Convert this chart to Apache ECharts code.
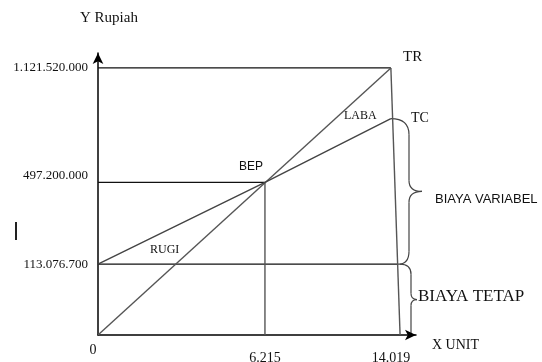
<!DOCTYPE html>
<html>
<head>
<meta charset="utf-8">
<script src="https://cdn.jsdelivr.net/npm/echarts@6/dist/echarts.min.js"></script>
<style>html,body{margin:0;padding:0;background:#fff;}#c{width:542px;height:362px;}</style>
</head>
<body>
<div id="c"></div>
<script>
// ---- data (real units) ----
const xTickValues = [0, 6215, 14019];
const xTickLabels = ['0', '6.215', '14.019'];
const yTickValues = [0, 113076700, 497200000, 1121520000];
const yTickLabels = ['', '113.076.700', '497.200.000', '1.121.520.000'];
const bepUnits = 6215;
const bepRupiah = 497200000;
const fixedCost = 113076700;
const maxUnits = 14019;
const totalRevenueMax = 1121520000;
const totalCostEnd = 845000000;   // (schematic)
const dropEndUnits = 14590;       // estimated: base of the near-vertical line
const fixedLineEndUnits = 14450;  // estimated: end of fixed-cost line

// schematic (not-to-scale) axis: tick values placed at picture positions
const xDisp = [0, 52.5, 92.1];
const yDisp = [0, 25.1, 54.1, 94.7];
function interp(v, real, disp) {
  let i = 0;
  while (i < real.length - 2 && v > real[i + 1]) i++;
  return disp[i] + (v - real[i]) * (disp[i + 1] - disp[i]) / (real[i + 1] - real[i]);
}
const sx = v => interp(v, xTickValues, xDisp);
const sy = v => interp(v, yTickValues, yDisp);
const P = (x, y) => [sx(x), sy(y)];

const serif = '"Liberation Serif", "Times New Roman", serif';
const sans = '"Liberation Sans", Arial, sans-serif';

const chart = echarts.init(document.getElementById('c'), null, {renderer: 'canvas'});

function lineSeries(data, color, width) {
  return {type: 'line', data: data, symbol: 'none', silent: true, animation: false,
    lineStyle: {color: color, width: width}, z: 3};
}

const xLabelMap = {};
xDisp.forEach((d, i) => xLabelMap[d.toFixed(2)] = i);
const yLabelMap = {};
yDisp.forEach((d, i) => yLabelMap[d.toFixed(2)] = i);

chart.setOption({
  animation: false,
  backgroundColor: '#fff',
  grid: {left: 98, right: 126, top: 53, bottom: 27, outerBoundsMode: 'none', containLabel: false},
  xAxis: {
    type: 'value', min: 0, max: 100,
    axisLine: {show: true, lineStyle: {color: '#000', width: 1.5}, symbol: ['none', 'arrow'], symbolSize: [8, 11]},
    axisTick: {show: false},
    splitLine: {show: false},
    axisLabel: {
      customValues: xDisp, margin: 8,
      formatter: v => {
        const i = xLabelMap[(+v).toFixed(2)];
        if (i === undefined) return '';
        return i === 0 ? '{z|' + xTickLabels[i] + '}' : '{t|' + xTickLabels[i] + '}';
      },
      rich: {
        z: {fontFamily: serif, fontSize: 14, color: '#111', padding: [0, 10, 0, 0]},
        t: {fontFamily: serif, fontSize: 14, color: '#111', padding: [8, 0, 0, 0]}
      }
    }
  },
  yAxis: {
    type: 'value', min: 0, max: 100,
    axisLine: {show: true, lineStyle: {color: '#000', width: 1.5}, symbol: ['none', 'arrow'], symbolSize: [8, 11]},
    axisTick: {show: false},
    splitLine: {show: false},
    axisLabel: {
      customValues: yDisp, margin: 10,
      formatter: v => {
        const i = yLabelMap[(+v).toFixed(2)];
        if (i === undefined || !yTickLabels[i]) return '';
        return i === 2 ? '{u|' + yTickLabels[i] + '}' : '{t|' + yTickLabels[i] + '}';
      },
      rich: {
        t: {fontFamily: serif, fontSize: 13, color: '#111'},
        u: {fontFamily: serif, fontSize: 13, color: '#111', padding: [0, 0, 14, 0]}
      }
    }
  },
  series: [
    lineSeries([P(0, totalRevenueMax), P(maxUnits, totalRevenueMax)], '#111', 1.3),
    lineSeries([P(0, bepRupiah), P(bepUnits, bepRupiah)], '#111', 1.3),
    lineSeries([P(0, fixedCost), P(fixedLineEndUnits, fixedCost)], '#111', 1.3),
    lineSeries([P(bepUnits, bepRupiah), P(bepUnits, 0)], '#555', 1.4),
    lineSeries([P(0, 0), P(maxUnits, totalRevenueMax)], '#555', 1.4),
    lineSeries([P(0, fixedCost), P(bepUnits, bepRupiah), P(maxUnits, totalCostEnd)], '#444', 1.4),
    lineSeries([P(maxUnits, totalRevenueMax), P(dropEndUnits, 0)], '#555', 1.4)
  ]
});

// braces and annotations anchored to the grid
const px = (x, y) => chart.convertToPixel({gridIndex: 0}, P(x, y));
const tcEnd = px(maxUnits, totalCostEnd);
const fcEnd = px(fixedLineEndUnits, fixedCost);
const origin = px(0, 0);
const bstyle = {fill: 'none', stroke: '#444', lineWidth: 1.2};
const seg = (x1, y1, x2, y2) => ({type: 'line', silent: true, shape: {x1, y1, x2, y2}, style: bstyle});
const qc = (x1, y1, cpx1, cpy1, x2, y2) => ({type: 'bezierCurve', silent: true, shape: {x1, y1, x2, y2, cpx1, cpy1}, style: bstyle});

const bx = 409;
const vMid = (tcEnd[1] + fcEnd[1]) / 2;
const bx2 = 411;
const fMid = (fcEnd[1] + origin[1]) / 2;
const braces = [
  qc(tcEnd[0], tcEnd[1], bx, tcEnd[1], bx, tcEnd[1] + 16),
  seg(bx, tcEnd[1] + 16, bx, vMid - 11),
  qc(bx, vMid - 11, bx, vMid, bx + 13, vMid),
  qc(bx + 13, vMid, bx, vMid, bx, vMid + 11),
  seg(bx, vMid + 11, bx, fcEnd[1] - 13),
  qc(bx, fcEnd[1] - 13, bx, fcEnd[1], fcEnd[0], fcEnd[1]),
  qc(fcEnd[0] + 2, fcEnd[1], bx2, fcEnd[1], bx2, fcEnd[1] + 10),
  seg(bx2, fcEnd[1] + 10, bx2, fMid - 6),
  qc(bx2, fMid - 6, bx2, fMid, bx2 + 6, fMid),
  qc(bx2 + 6, fMid, bx2, fMid, bx2, fMid + 6),
  seg(bx2, fMid + 6, bx2, origin[1] - 1)
];

const txt = (x, y, s, font, size) => ({
  type: 'text', x: x, y: y, silent: true,
  style: {text: s, fontFamily: font, fontSize: size, fill: '#111', verticalAlign: 'middle', align: 'left'}
});

chart.setOption({
  graphic: braces.concat([
    txt(80, 18, 'Y Rupiah', serif, 15),
    txt(432, 345, 'X UNIT', serif, 14),
    txt(403, 57, 'TR', serif, 15),
    txt(411, 118, 'TC', serif, 14),
    txt(344, 116, 'LABA', serif, 12),
    txt(150, 250, 'RUGI', serif, 12),
    txt(239, 167, 'BEP', sans, 12),
    txt(435, 199, 'BIAYA VARIABEL', sans, 13),
    txt(418, 297, 'BIAYA TETAP', serif, 17),
    {type: 'rect', silent: true, shape: {x: 15, y: 222, width: 2, height: 18}, style: {fill: '#222'}}
  ])
});
</script>
</body>
</html>
